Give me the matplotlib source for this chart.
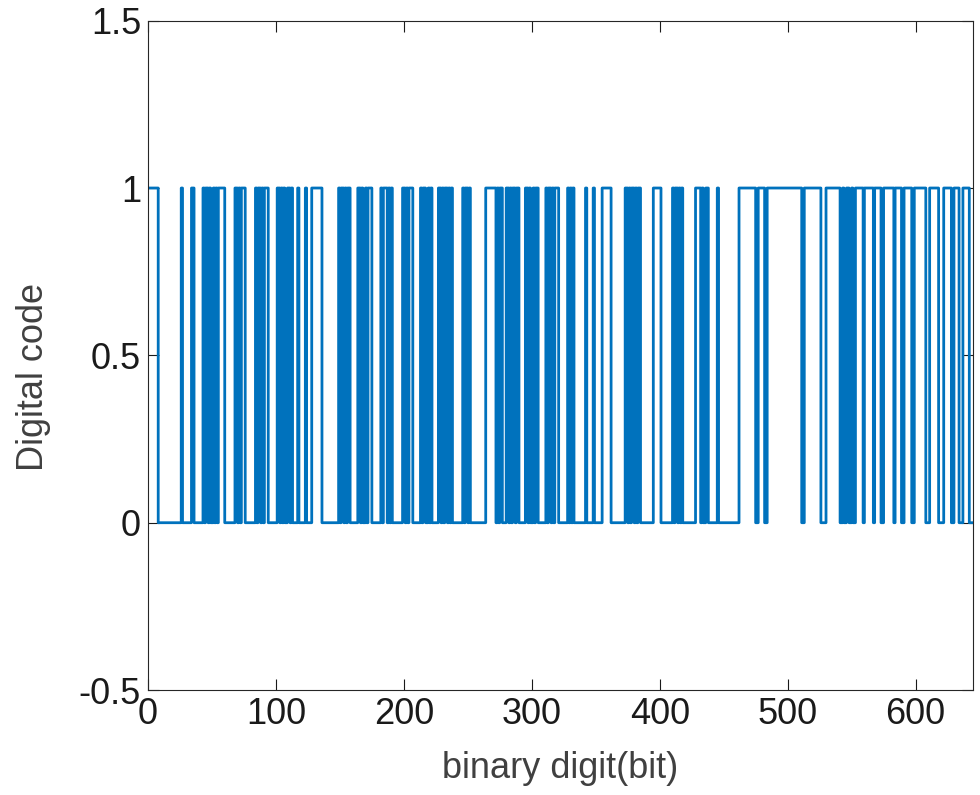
import matplotlib
matplotlib.use('Agg')
import matplotlib.pyplot as plt
import numpy as np

plt.rcParams['font.family'] = ['Liberation Sans', 'DejaVu Sans']

# run lengths of the bit stream, first run is a '1', then alternating 0/1
bit_runs = [8, 18, 1, 7, 2, 7,
            1, 1, 2, 1, 1, 2, 1, 1, 1, 1, 5, 8,
            2, 1, 1, 1, 3, 8,
            1, 1, 2, 1, 1, 1, 3, 7,
            2, 1, 1, 1, 1, 2, 2, 1, 1, 4, 1, 5, 1, 4, 8, 13,
            1, 1, 2, 1, 1, 1, 2, 6,
            2, 1, 1, 2, 1, 1, 3, 7,
            1, 1, 3, 1, 1, 1, 1, 8,
            2, 1, 1, 1, 3, 6,
            1, 1, 2, 2, 1, 1, 1, 5,
            2, 1, 1, 1, 2, 1, 1, 1, 1, 8,
            1, 1, 2, 1, 1, 12,
            8, 1, 1, 1, 2, 3,
            2, 1, 1, 1, 2, 1, 2, 5,
            2, 1, 1, 2, 1, 1, 2, 6,
            1, 1, 2, 1, 1, 1, 3, 7,
            1, 1, 1, 1, 1, 9, 1, 5, 1, 6, 7, 11,
            2, 1, 1, 1, 2, 1, 1, 1, 2, 10,
            6, 9,
            1, 1, 2, 1, 1, 1, 1, 10,
            4, 1, 1, 2, 2, 7, 1, 16,
            13, 2, 5, 2, 27, 2, 13, 4, 11,
            2, 1, 2, 2, 2, 1, 2,
            6, 1, 7, 1, 5, 2, 8, 1, 5, 2, 6, 2, 9, 3, 7, 4, 6, 2, 4, 3, 5, 3]

bits = []
val = 1
for n in bit_runs:
    bits += [val] * n
    val = 1 - val
bits = np.array(bits)
idx = np.arange(len(bits) + 1)

x_ticks = [0, 100, 200, 300, 400, 500, 600]
y_ticks = [-0.5, 0, 0.5, 1, 1.5]
y_ticklabels = ['-0.5', '0', '0.5', '1', '1.5']

fig = plt.figure(figsize=(9.8, 7.95), dpi=100)
ax = fig.add_axes([0.151, 0.132, 0.842, 0.842])

ax.step(idx, np.append(bits, bits[-1]), where='post', color='#0072BD', lw=2.0)

ax.set_xlim(0, len(bits))
ax.set_ylim(-0.5, 1.5)
ax.set_xticks(x_ticks)
ax.set_yticks(y_ticks)
ax.set_yticklabels(y_ticklabels)
ax.tick_params(direction='in', top=True, right=True, length=8, width=0.8,
               labelsize=26, colors='#1a1a1a', pad=5)
for s in ax.spines.values():
    s.set_color('#262626')
    s.set_linewidth(0.8)

ax.set_xlabel('binary digit(bit)', fontsize=26, color='#404040', labelpad=14)
ax.set_ylabel('Digital code', fontsize=26, color='#404040', labelpad=20)
ax.yaxis.label.set_y(0.468)

plt.savefig('out.png', dpi=100, facecolor='white')
plt.close()
